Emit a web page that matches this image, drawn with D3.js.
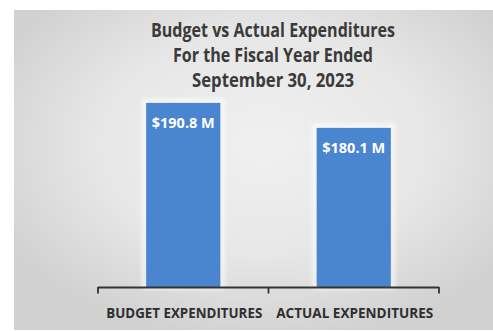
<!DOCTYPE html>
<html>
<head>
<meta charset="utf-8">
<script src="https://cdn.jsdelivr.net/npm/d3@7"></script>
<style>
  html, body { margin: 0; padding: 0; background: #ffffff; }
  svg { display: block; }
</style>
</head>
<body>
<script>
// Chart data
const categories = ["BUDGET EXPENDITURES", "ACTUAL EXPENDITURES"];
const values = [190.8, 180.1];
const valueLabels = ["$190.8 M", "$180.1 M"];
const titleLines = ["Budget vs Actual Expenditures", "For the Fiscal Year Ended", "September 30, 2023"];
const yDomain = [112, 200];

const W = 493, H = 331;
const FONT = "'Open Sans', 'DejaVu Sans', sans-serif";

const svg = d3.select("body").append("svg")
  .attr("width", W)
  .attr("height", H);

const defs = svg.append("defs");
const grad = defs.append("radialGradient")
  .attr("id", "panelGrad")
  .attr("cx", "52%").attr("cy", "42%").attr("r", "62%");
grad.append("stop").attr("offset", "0%").attr("stop-color", "#f0f0f0");
grad.append("stop").attr("offset", "55%").attr("stop-color", "#e7e7e7");
grad.append("stop").attr("offset", "100%").attr("stop-color", "#d1d1d1");

const glow = defs.append("filter").attr("id", "glow")
  .attr("x", "-20%").attr("y", "-20%").attr("width", "140%").attr("height", "140%");
glow.append("feGaussianBlur").attr("stdDeviation", 2.2);

// Background panel
svg.append("rect")
  .attr("x", 14).attr("y", 10)
  .attr("width", W - 14).attr("height", 320)
  .attr("fill", "url(#panelGrad)");

// Scales
const x = d3.scaleBand().domain(categories).range([98, 439]).padding(0);
const y = d3.scaleLinear().domain(yDomain).range([287, 81.4]);
const barW = x.bandwidth() * 0.435;

// Fit a text element to a target width
function fitWidth(sel, width) {
  sel.attr("textLength", width).attr("lengthAdjust", "spacingAndGlyphs");
}

// Title
const title = svg.append("g");
titleLines.forEach((t, i) => {
  const tt = title.append("text")
    .attr("x", 273)
    .attr("y", 37 + i * 25)
    .attr("text-anchor", "middle")
    .attr("font-family", FONT)
    .attr("font-weight", 700)
    .attr("font-size", 19)
    .attr("fill", "#3a3a3a")
    .text(t);
  fitWidth(tt, [244, 200, 162][i]);
});

// Bars with a soft light halo
const bars = svg.append("g");
categories.forEach((c, i) => {
  const bx = x(c) + (x.bandwidth() - barW) / 2;
  bars.append("rect")
    .attr("x", bx - 2).attr("y", y(values[i]) - 2)
    .attr("width", barW + 4).attr("height", y(yDomain[0]) - y(values[i]) + 2)
    .attr("fill", "none")
    .attr("stroke", "#ffffff")
    .attr("stroke-opacity", 0.75)
    .attr("stroke-width", 4)
    .attr("filter", "url(#glow)");
  bars.append("rect")
    .attr("x", bx).attr("y", y(values[i]))
    .attr("width", barW).attr("height", y(yDomain[0]) - y(values[i]))
    .attr("fill", "#4a85cf");
  const lbl = bars.append("text")
    .attr("x", bx + barW / 2)
    .attr("y", y(values[i]) + 25)
    .attr("text-anchor", "middle")
    .attr("font-family", FONT)
    .attr("font-weight", 700)
    .attr("font-size", 15)
    .attr("fill", "#ffffff")
    .text(valueLabels[i]);
  fitWidth(lbl, 63);
});

// Category axis: baseline with tick marks between categories
const axisY = y(yDomain[0]) + 0.5;
const axis = svg.append("g")
  .attr("stroke", "#333333")
  .attr("stroke-width", 1.8)
  .attr("fill", "none");
const r = x.range();
axis.append("line")
  .attr("x1", r[0]).attr("x2", r[1])
  .attr("y1", axisY).attr("y2", axisY);
const tickXs = categories.map(c => x(c)).concat([x(categories[categories.length - 1]) + x.bandwidth()]);
tickXs.forEach(tx => {
  axis.append("line")
    .attr("x1", tx).attr("x2", tx)
    .attr("y1", axisY - 0.5).attr("y2", axisY + 6);
});

categories.forEach((c, i) => {
  const t = svg.append("text")
    .attr("x", x(c) + x.bandwidth() / 2 + 1)
    .attr("y", 317.5)
    .attr("text-anchor", "middle")
    .attr("font-family", FONT)
    .attr("font-weight", 700)
    .attr("font-size", 15)
    .attr("fill", "#2e2e2e")
    .text(c);
  fitWidth(t, [156, 157][i]);
});
</script>
</body>
</html>
